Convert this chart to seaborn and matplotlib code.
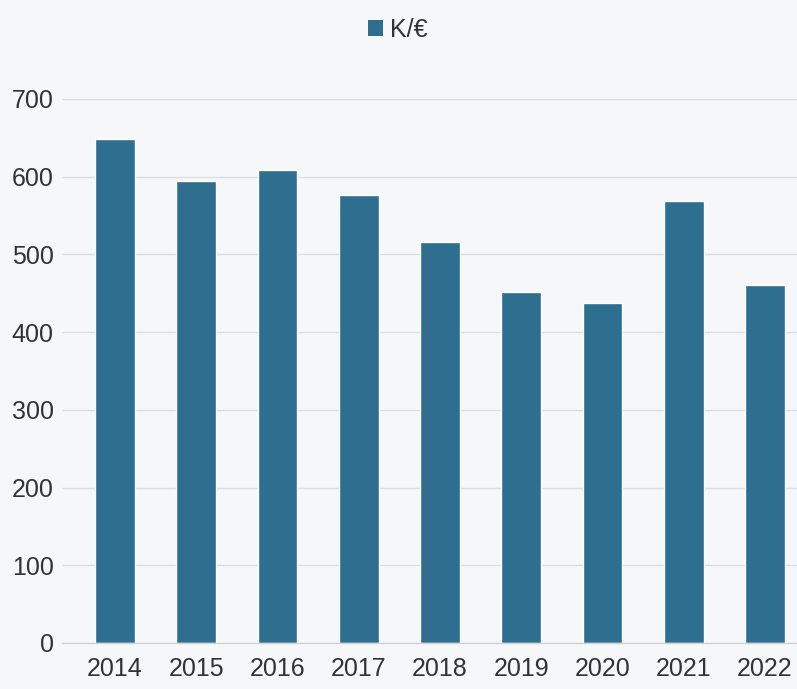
import matplotlib
matplotlib.use("Agg")
import matplotlib.pyplot as plt
import seaborn as sns
import pandas as pd
from matplotlib.patches import Patch

years = ["2014", "2015", "2016", "2017", "2018", "2019", "2020", "2021", "2022"]
values = [649, 595, 609, 577, 516, 452, 437, 569, 461]
series_name = "K/€"
yticks = [0, 100, 200, 300, 400, 500, 600, 700]

df = pd.DataFrame({"year": years, "value": values})

sns.set_theme(style="white")
plt.rcParams["font.family"] = ["Liberation Sans", "DejaVu Sans"]

bar_color = "#2e6e8e"
bg = "#f6f7f9"

fig = plt.figure(figsize=(7.97, 6.89), dpi=100, facecolor=bg)
ax = fig.add_axes([62 / 797, 1 - 643 / 689, 1 - 62 / 797, (643 - 99) / 689])
ax.set_facecolor(bg)

sns.barplot(data=df, x="year", y="value", color=bar_color, width=0.49,
            saturation=1, ax=ax, zorder=3)

ax.set_xlim(-0.652, 8.394)
ax.set_ylim(0, 700)
ax.set_yticks(yticks)
ax.set_yticklabels([str(t) for t in yticks])
ax.set_xlabel("")
ax.set_ylabel("")
for s in ["top", "right", "left"]:
    ax.spines[s].set_visible(False)
ax.spines["bottom"].set_color("#d0d3d6")
ax.spines["bottom"].set_linewidth(1)
ax.spines["bottom"].set_zorder(4)
ax.yaxis.grid(True, color="#dcdfe2", linewidth=1)
ax.set_axisbelow(True)
ax.tick_params(axis="y", length=0, pad=6, labelsize=18, labelcolor="#333333")
ax.tick_params(axis="x", length=0, pad=10, labelsize=18, labelcolor="#333333")

handles = [Patch(facecolor=bar_color, edgecolor="none", label=series_name)]
fig.legend(handles=handles, loc="center", bbox_to_anchor=(398 / 797, 1 - 30 / 689),
           frameon=False, fontsize=18, handlelength=0.6, handleheight=0.6,
           handletextpad=0.3, labelcolor="#333333")

fig.savefig("out.png", dpi=100, facecolor=bg)
